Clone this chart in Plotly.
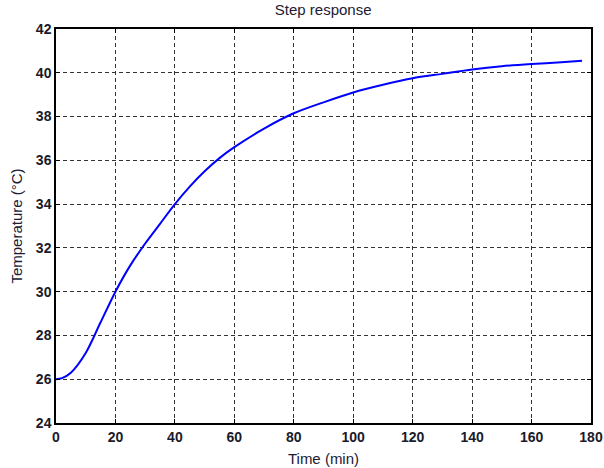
import plotly.graph_objects as go

time_min = [0, 2, 5, 10, 15, 20, 25, 30, 35, 40, 45, 50, 55, 60, 70, 80, 90,
            100, 110, 120, 130, 140, 150, 160, 170, 177]
temperature = [26.0, 26.05, 26.3, 27.2, 28.6, 30.0, 31.2, 32.2, 33.1, 34.0, 34.8,
               35.5, 36.1, 36.6, 37.45, 38.15, 38.65, 39.1, 39.45, 39.75, 39.95,
               40.15, 40.3, 40.4, 40.48, 40.55]
x_ticks = [0, 20, 40, 60, 80, 100, 120, 140, 160, 180]
y_ticks = [24, 26, 28, 30, 32, 34, 36, 38, 40, 42]

fig = go.Figure()
fig.add_trace(go.Scatter(x=time_min, y=temperature, mode="lines",
                         line=dict(color="#0000ff", width=2, shape="spline", smoothing=0.8),
                         showlegend=False))

axis_common = dict(
    showline=True, linecolor="black", linewidth=1.5, mirror="ticks",
    ticks="inside", ticklen=4, tickcolor="black",
    showgrid=True, gridcolor="#333333", gridwidth=1, griddash="4px,3px",
    zeroline=False, automargin=False,
    tickfont=dict(family="Liberation Sans, Arial", size=14, color="#1a1a2a", weight="bold"),
)
title_font = dict(family="Liberation Sans, Arial", size=15, color="#221a33")

fig.update_layout(
    width=604, height=468,
    margin=dict(l=56, r=13, t=29, b=45, autoexpand=False),
    paper_bgcolor="white", plot_bgcolor="white",
    title=dict(text="Step response", x=0.535, xanchor="center", y=0.979, yanchor="middle",
               font=title_font),
    xaxis=dict(range=[0, 180], tickvals=x_ticks, ticktext=[str(v) for v in x_ticks],
               title=dict(text="Time (min)", standoff=10, font=title_font),
               **axis_common),
    yaxis=dict(range=[24, 42], tickvals=y_ticks, ticktext=[str(v) for v in y_ticks],
               title=dict(text="Temperature (°C)", standoff=10, font=title_font),
               **axis_common),
)

fig.write_html("out.html")
